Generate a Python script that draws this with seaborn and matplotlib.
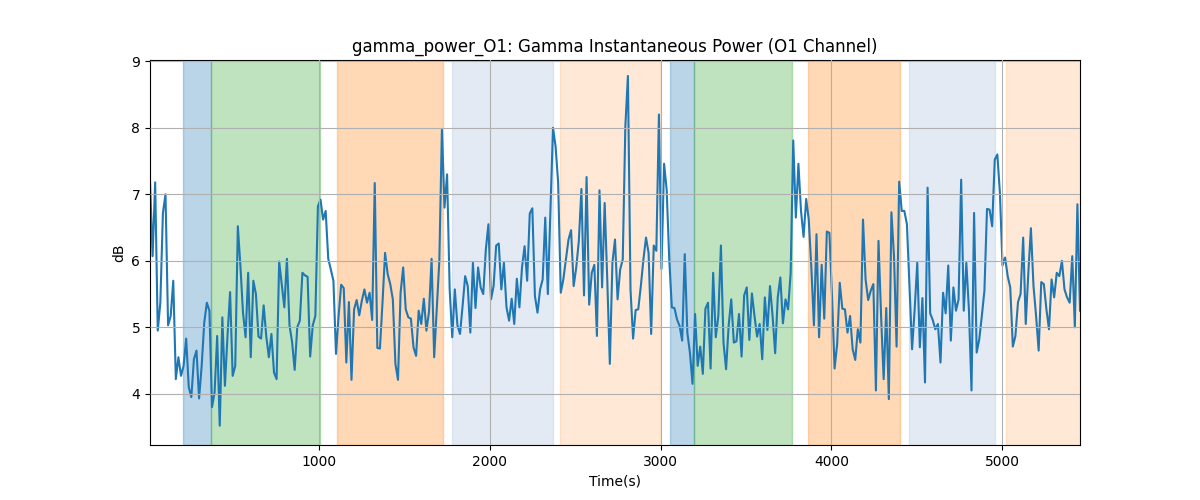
import numpy as np
import pandas as pd
import matplotlib
matplotlib.use("Agg")
import matplotlib.pyplot as plt
import seaborn as sns

TITLE = "gamma_power_O1: Gamma Instantaneous Power (O1 Channel)"
X_LABEL = "Time(s)"
Y_LABEL = "dB"

TIME_START = 12.0
TIME_STEP = 15.12

power_db = [
    # 0 - ~760 s
    7.2, 6.07, 7.18, 4.95, 5.37, 6.72, 7.0, 5.03, 5.17, 5.7,
    4.22, 4.55, 4.27, 4.42, 4.83, 4.1, 3.95, 4.52, 4.65, 3.93,
    4.42, 5.07, 5.37, 5.25, 3.8, 4.02, 4.87, 3.52, 5.15, 4.12,
    4.87, 5.53, 4.27, 4.42, 6.52, 5.92, 5.22, 4.85, 5.82, 4.55,
    5.7, 5.5, 4.86, 4.83, 5.33, 4.87, 4.55, 4.9, 4.32, 4.22,
    # ~760 - 1560 s
    5.99, 5.65, 5.3, 6.03, 5.03, 4.78, 4.36, 5.0, 5.1, 5.82,
    5.78, 5.76, 4.56, 5.03, 5.17, 6.82, 6.92, 6.62, 6.75, 6.03,
    5.87, 5.7, 4.6, 5.17, 5.64, 5.59, 4.47, 5.38, 4.21, 5.27,
    5.41, 5.18, 5.4, 5.57, 5.37, 5.52, 5.11, 7.17, 4.69, 4.68,
    5.37, 6.12, 5.8, 5.65, 5.42, 4.45, 4.21, 5.52, 5.9, 5.27,
    5.15, 5.13,
    # ~1560 - 2340 s
    4.7, 4.57, 5.25, 5.05, 5.43, 4.95, 5.23, 6.03, 4.55, 5.27,
    6.0, 7.97, 6.8, 7.3, 5.57, 4.85, 5.57, 5.03, 4.9, 5.32,
    5.77, 5.62, 4.92, 5.97, 5.29, 5.9, 5.6, 5.5, 6.17, 6.55,
    5.42, 5.62, 6.23, 6.26, 5.57, 5.97, 5.3, 5.1, 5.43, 5.05,
    5.73, 5.3, 5.9, 6.22, 5.7, 6.71, 6.79, 5.47, 5.22, 5.57,
    5.72, 6.65,
    # ~2340 - 3130 s
    5.5, 6.77, 8.0, 7.72, 7.17, 5.52, 5.72, 6.02, 6.32, 6.46,
    5.62, 5.9, 6.3, 7.08, 5.48, 7.26, 5.34, 5.82, 5.94, 4.87,
    7.06, 5.6, 6.87, 5.72, 4.45, 5.97, 6.32, 5.42, 5.87, 6.02,
    8.02, 8.78, 5.57, 4.83, 5.26, 5.27, 5.62, 6.02, 6.35, 6.12,
    4.9, 6.23, 6.15, 8.2, 5.88, 7.46, 7.07, 6.02, 5.3, 5.29,
    5.12, 5.02,
    # ~3130 - 3880 s
    4.8, 6.1, 4.92, 4.62, 4.15, 5.2, 4.42, 4.71, 4.3, 5.28,
    5.37, 4.38, 5.82, 4.85, 5.17, 6.23, 4.77, 4.37, 5.03, 5.42,
    4.77, 4.79, 5.2, 4.56, 5.48, 5.6, 4.81, 5.51, 5.17, 4.86,
    5.05, 4.52, 5.45, 4.96, 5.62, 5.17, 4.61, 5.45, 5.75, 5.06,
    5.42, 5.27, 5.82, 7.81, 6.65, 7.46, 6.75, 6.36, 6.93, 6.62,
    # ~3880 - 4650 s
    5.9, 5.03, 6.4, 4.85, 5.94, 5.13, 6.44, 6.42, 5.47, 4.38,
    4.75, 5.67, 5.28, 5.27, 4.92, 5.17, 4.67, 4.51, 4.97, 4.77,
    6.62, 5.72, 5.41, 5.55, 5.65, 4.05, 6.3, 5.17, 4.22, 5.29,
    3.92, 6.73, 6.07, 4.71, 7.19, 6.75, 6.75, 6.55, 5.6, 4.67,
    5.27, 5.97, 4.7, 5.44, 4.17, 7.1, 5.21, 5.11, 4.97, 5.05,
    4.47,
    # ~4650 - 5460 s
    5.52, 5.21, 5.93, 4.8, 5.6, 5.25, 5.42, 7.22, 5.25, 5.97,
    5.27, 4.05, 6.72, 4.62, 4.82, 5.17, 5.55, 6.78, 6.77, 6.52,
    7.52, 7.6, 7.02, 5.93, 6.05, 5.77, 5.6, 4.71, 4.87, 5.38,
    5.5, 6.35, 5.05, 5.82, 6.49, 5.62, 5.17, 4.65, 5.68, 5.65,
    5.27, 4.97, 5.72, 5.45, 5.82, 5.77, 6.0, 5.57, 5.45, 5.37,
    6.07, 5.0, 6.85, 5.25,
]

span_starts = [203, 367, 1104, 1780, 2413, 3057, 3194, 3866, 4452, 5022]
span_ends = [367, 1006, 1724, 2370, 2995, 3194, 3771, 4400, 4957, 5470]
span_colors = ["tab:blue", "tab:green", "tab:orange", "lightsteelblue", "tab:orange",
               "tab:blue", "tab:green", "tab:orange", "lightsteelblue", "tab:orange"]
span_alphas = [0.3, 0.3, 0.3, 0.35, 0.17, 0.3, 0.3, 0.3, 0.35, 0.17]

times = TIME_START + TIME_STEP * np.arange(len(power_db))
df = pd.DataFrame({"time": times, "power": power_db})

fig, ax = plt.subplots(figsize=(12, 5), dpi=100)
fig.subplots_adjust(left=0.125, right=0.9, bottom=0.11, top=0.88)

for s, e, c, a in zip(span_starts, span_ends, span_colors, span_alphas):
    ax.axvspan(s, e, color=c, alpha=a)

sns.lineplot(data=df, x="time", y="power", ax=ax, color="tab:blue", linewidth=1.5)

ax.grid(True, color="#b0b0b0", linewidth=0.8)
ax.set_axisbelow(False)
ax.set_xlim(times[0], times[-1])
ax.set_ylim(3.23, 9.02)
ax.set_title(TITLE, fontsize=12)
ax.set_xlabel(X_LABEL)
ax.set_ylabel(Y_LABEL)

fig.savefig("out.png", dpi=100)
